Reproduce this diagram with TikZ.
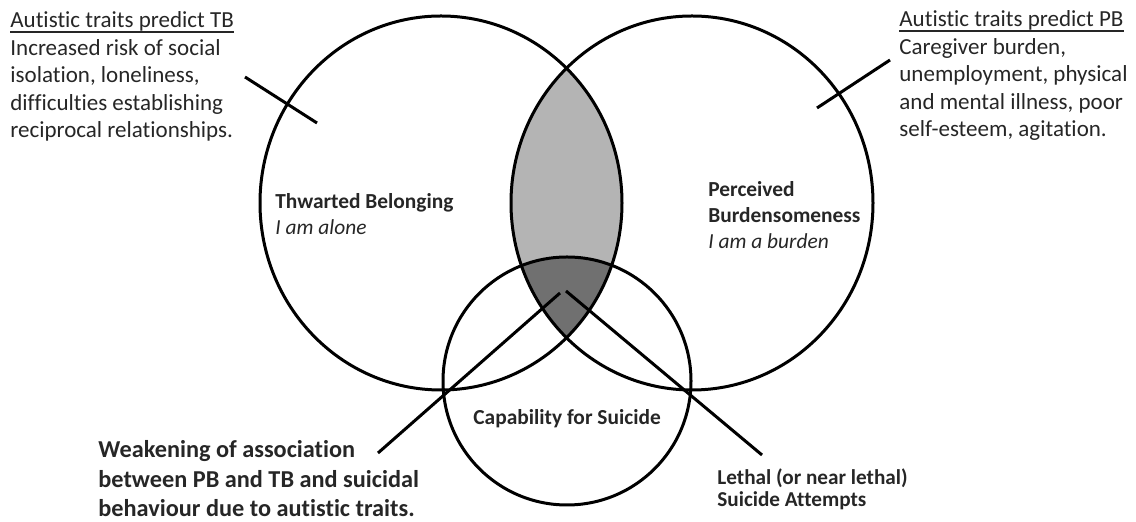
\documentclass[tikz,border=0pt]{standalone}
\usepackage{fontspec}
\setmainfont[Ligatures=NoCommon]{Carlito}
\definecolor{txt}{HTML}{262626}
\definecolor{lightfill}{HTML}{B4B4B4}
\definecolor{darkfill}{HTML}{707070}
\newsavebox\myulbox
\newcommand\myul[1]{\sbox\myulbox{#1}\rlap{\rule[-2.4pt]{\wd\myulbox}{0.75pt}}\usebox\myulbox}
\begin{document}
\begin{tikzpicture}[x=0.5pt,y=-0.5pt,
  ring/.style={draw=black,line width=1.5pt},
  link/.style={draw=black,line width=1.5pt},
  topnote/.style={anchor=base west,inner sep=0pt,align=left,text=txt,font={\fontsize{11.5pt}{13.75pt}\selectfont}},
  setlabel/.style={anchor=base west,inner sep=0pt,align=left,text=txt,font={\fontsize{10.7pt}{13pt}\selectfont}},
  weaknote/.style={anchor=base west,inner sep=0pt,align=left,text=txt,font={\fontsize{12.15pt}{14.75pt}\selectfont\bfseries}},
  lethalnote/.style={anchor=base west,inner sep=0pt,align=left,text=txt,font={\fontsize{10.6pt}{11pt}\selectfont\bfseries}}]
\useasboundingbox (0,0) rectangle (1136,522);
\coordinate (cTB) at (441,203);
\coordinate (cPB) at (692,203);
\coordinate (cCS) at (567,381);
% fills
\begin{scope}
  \clip (cTB) ellipse [x radius=90.5pt, y radius=93.5pt];
  \fill[lightfill] (cPB) ellipse [x radius=90.5pt, y radius=93.5pt];
  \clip (cPB) ellipse [x radius=90.5pt, y radius=93.5pt];
  \fill[darkfill] (cCS) circle [radius=62pt];
\end{scope}
% circles
\draw[ring] (cTB) ellipse [x radius=90.5pt, y radius=93.5pt];
\draw[ring] (cPB) ellipse [x radius=90.5pt, y radius=93.5pt];
\draw[ring] (cCS) circle [radius=62pt];
% texts (anchor = baseline of the last line)
\node[topnote] (tbnote) at (10,138) {\myul{Autistic traits predict TB}\\Increased risk of social\\isolation, loneliness,\\difficulties establishing\\reciprocal relationships.};
\node[topnote] (pbnote) at (899,137) {\myul{Autistic traits predict PB}\\Caregiver burden,\\unemployment, physical\\and mental illness, poor\\self-esteem, agitation.};
\node[setlabel] (tb) at (275,235) {\textbf{Thwarted Belonging}\\\textit{I am alone}};
\node[setlabel] (pb) at (708,249) {\textbf{Perceived}\\\textbf{Burdensomeness}\\\textit{I am a burden}};
\node[setlabel] (cs) at (473,425) {\textbf{Capability for Suicide}};
\node[weaknote] (weak) at (98,517) {Weakening of association\\between PB and TB and suicidal\\behaviour due to autistic traits.};
\node[lethalnote] (lethal) at (717,507) {Lethal (or near lethal)\\Suicide Attempts};
% ticks and connectors
\coordinate (tbA) at (245,77);
\coordinate (tbB) at (317,123);
\coordinate (pbA) at (817,108);
\coordinate (pbB) at (890,60);
\coordinate (weakEnd) at (378,453);
\coordinate (coreL) at (560,293);
\coordinate (coreR) at (566,291);
\coordinate (lethalEnd) at (762,455);
\draw[link] (tbA) -- (tbB);
\draw[link] (pbA) -- (pbB);
\draw[link] (weakEnd) -- (coreL);
\draw[link] (coreR) -- (lethalEnd);
\end{tikzpicture}
\end{document}
